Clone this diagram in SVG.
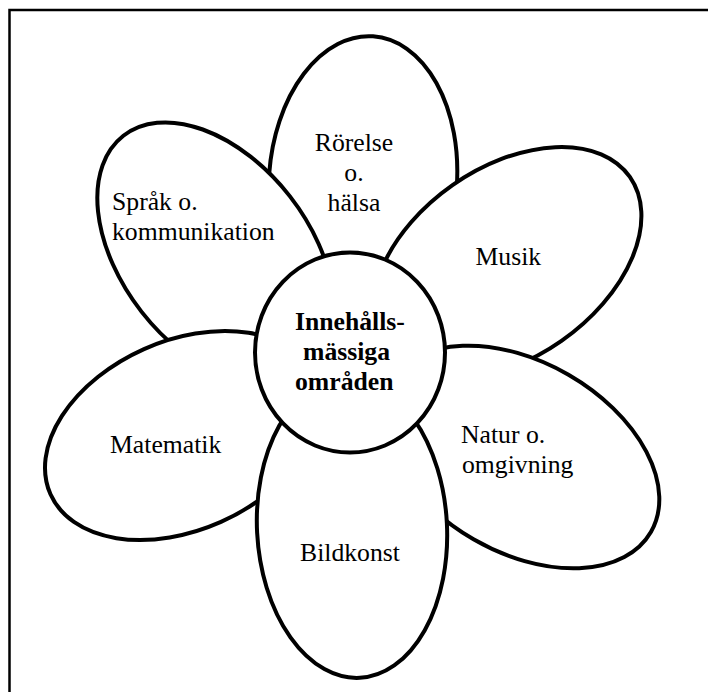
<svg xmlns="http://www.w3.org/2000/svg" width="708" height="692" viewBox="0 0 708 692">
<style>
.petal{fill:#fff;stroke:#000;stroke-width:4}
.lbl{font-family:"Liberation Serif","Times New Roman",serif;font-size:25.7px;fill:#000}
.c{text-anchor:middle}
.b{font-weight:bold}
</style>
<rect width="708" height="692" fill="#fff"/>
<path id="frame" d="M9.5 692V10H708" fill="none" stroke="#000" stroke-width="2.5"/>
<g id="connectors"/>
<g id="petal-rorelse">
<ellipse class="petal" cx="363" cy="180" rx="94" ry="144" transform="rotate(4 363 180)"/>
<text class="lbl c" x="354" y="151">Rörelse</text>
<text class="lbl c" x="354" y="181">o.</text>
<text class="lbl c" x="354" y="211">hälsa</text>
</g>
<g id="petal-sprak">
<ellipse class="petal" cx="215.7" cy="254" rx="150" ry="94" transform="rotate(52 215.7 254)"/>
<text class="lbl" x="112" y="210">Språk o.</text>
<text class="lbl" x="112" y="240">kommunikation</text>
</g>
<g id="petal-matematik">
<ellipse class="petal" cx="182.5" cy="435.5" rx="144.5" ry="94.6" transform="rotate(-24 182.5 435.5)"/>
<text class="lbl" x="110" y="453">Matematik</text>
</g>
<g id="petal-musik">
<ellipse class="petal" cx="507" cy="263" rx="150" ry="95" transform="rotate(-35 507 263)"/>
<text class="lbl" x="475.5" y="265">Musik</text>
</g>
<g id="petal-natur">
<ellipse class="petal" cx="521" cy="457" rx="150" ry="95" transform="rotate(30 521 457)"/>
<text class="lbl" x="461" y="443">Natur o.</text>
<text class="lbl" x="462" y="473">omgivning</text>
</g>
<g id="petal-bildkonst">
<ellipse class="petal" cx="352" cy="528" rx="95" ry="150" transform="rotate(-3 352 528)"/>
<text class="lbl" x="300" y="561">Bildkonst</text>
</g>
<g id="center">
<ellipse class="petal" cx="350" cy="352.5" rx="95" ry="100"/>
<text class="lbl b" x="295" y="330">Innehålls-</text>
<text class="lbl b" x="303" y="360">mässiga</text>
<text class="lbl b" x="295" y="390">områden</text>
</g>
</svg>
